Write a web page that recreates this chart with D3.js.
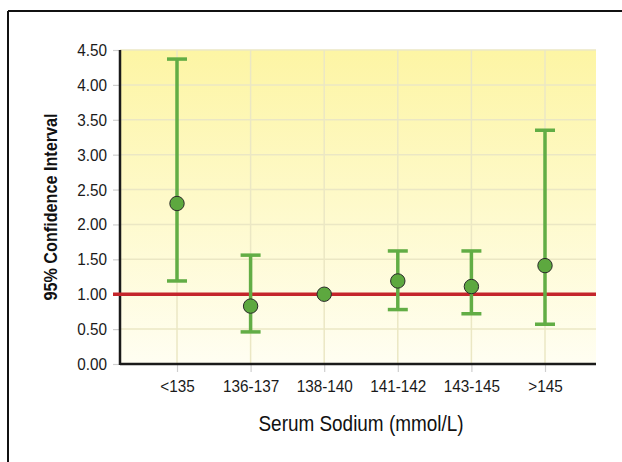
<!DOCTYPE html>
<html>
<head>
<meta charset="utf-8">
<script src="https://cdn.jsdelivr.net/npm/d3@7"></script>
<style>
  body { margin: 0; background: #fff; }
  svg { display: block; }
  svg text { font-family: "Liberation Sans", Arial, sans-serif; }
</style>
</head>
<body>
<svg id="chart" width="622" height="462"></svg>
<script>
// data
const categories = ['<135', '136-137', '138-140', '141-142', '143-145', '>145'];
const estimates = [2.30, 0.83, 1.00, 1.19, 1.11, 1.41];
const lowerCI = [1.19, 0.46, null, 0.78, 0.72, 0.57];
const upperCI = [4.37, 1.56, null, 1.62, 1.62, 3.35];
const yTicks = [0, 0.5, 1, 1.5, 2, 2.5, 3, 3.5, 4, 4.5];
const referenceValue = 1.0;

const svg = d3.select('#chart');
const plot = { left: 120, right: 596, top: 50, bottom: 364 };
const squeeze = 0.9; // the original uses a condensed face

const x = d3.scalePoint().domain(categories).range([177, 545]);
const y = d3.scaleLinear().domain([0, 4.5]).range([plot.bottom, plot.top]);

// frame (only top and left edges visible)
svg.append('line').attr('x1', 8).attr('x2', 622).attr('y1', 11).attr('y2', 11)
    .attr('stroke', '#111').attr('stroke-width', 2);
svg.append('line').attr('x1', 8).attr('x2', 8).attr('y1', 11).attr('y2', 462)
    .attr('stroke', '#111').attr('stroke-width', 2);

// background gradient
const grad = svg.append('defs').append('linearGradient')
    .attr('id', 'bg').attr('x1', 0).attr('x2', 0).attr('y1', 0).attr('y2', 1);
grad.append('stop').attr('offset', '0%').attr('stop-color', '#fdf5a4');
grad.append('stop').attr('offset', '100%').attr('stop-color', '#fffef2');

svg.append('rect')
    .attr('x', plot.left).attr('y', plot.top)
    .attr('width', plot.right - plot.left).attr('height', plot.bottom - plot.top)
    .attr('fill', 'url(#bg)');

// grid
svg.append('g').selectAll('line').data(yTicks).join('line')
    .attr('x1', plot.left).attr('x2', plot.right)
    .attr('y1', d => y(d)).attr('y2', d => y(d))
    .attr('stroke', '#ebe7c4').attr('stroke-width', 1.5);
svg.append('g').selectAll('line').data(categories).join('line')
    .attr('x1', d => x(d)).attr('x2', d => x(d))
    .attr('y1', plot.top).attr('y2', plot.bottom)
    .attr('stroke', '#ebe7c4').attr('stroke-width', 1.5);

// axes
const yAxis = svg.append('g')
    .attr('transform', `translate(${plot.left},0)`)
    .call(d3.axisLeft(y).tickValues(yTicks).tickFormat(d3.format('.2f')).tickSize(7).tickPadding(6));
const xAxis = svg.append('g')
    .attr('transform', `translate(0,${plot.bottom})`)
    .call(d3.axisBottom(x).tickSize(8).tickPadding(8));

[yAxis, xAxis].forEach(g => {
    g.attr('font-family', null).attr('font-size', null);
    g.select('.domain').remove();
    g.selectAll('.tick line').attr('stroke', '#cfcfcf').attr('stroke-width', 1.2);
    g.selectAll('.tick text')
        .attr('fill', '#1a1a1a')
        .style('font-size', '17px')
        .attr('x', function () { return (+d3.select(this).attr('x') || 0) / squeeze; })
        .attr('transform', `scale(${squeeze},1)`);
});

svg.append('line').attr('x1', plot.left).attr('x2', plot.left)
    .attr('y1', plot.top).attr('y2', plot.bottom + 1)
    .attr('stroke', '#1a1a1a').attr('stroke-width', 2.5);
svg.append('line').attr('x1', plot.left).attr('x2', plot.right)
    .attr('y1', plot.bottom).attr('y2', plot.bottom)
    .attr('stroke', '#1a1a1a').attr('stroke-width', 2.5);

// reference line
svg.append('line')
    .attr('x1', 113).attr('x2', plot.right)
    .attr('y1', y(referenceValue)).attr('y2', y(referenceValue))
    .attr('stroke', '#c4252b').attr('stroke-width', 3.5);

// error bars
const rows = categories.map((c, i) => ({ cat: c, est: estimates[i], lo: lowerCI[i], hi: upperCI[i] }));
const withCI = rows.filter(d => d.lo != null);
const green = '#62ad45';
const capW = 10;

const bars = svg.append('g');
bars.selectAll('line.stem').data(withCI).join('line').attr('class', 'stem')
    .attr('x1', d => x(d.cat)).attr('x2', d => x(d.cat))
    .attr('y1', d => y(d.hi)).attr('y2', d => y(d.lo))
    .attr('stroke', green).attr('stroke-width', 3.5);
bars.selectAll('line.cap-hi').data(withCI).join('line').attr('class', 'cap-hi')
    .attr('x1', d => x(d.cat) - capW).attr('x2', d => x(d.cat) + capW)
    .attr('y1', d => y(d.hi)).attr('y2', d => y(d.hi))
    .attr('stroke', green).attr('stroke-width', 3.5);
bars.selectAll('line.cap-lo').data(withCI).join('line').attr('class', 'cap-lo')
    .attr('x1', d => x(d.cat) - capW).attr('x2', d => x(d.cat) + capW)
    .attr('y1', d => y(d.lo)).attr('y2', d => y(d.lo))
    .attr('stroke', green).attr('stroke-width', 3.5);

// point estimates
svg.append('g').selectAll('circle').data(rows).join('circle')
    .attr('cx', d => x(d.cat)).attr('cy', d => y(d.est)).attr('r', 7.2)
    .attr('fill', '#5da83f').attr('stroke', '#2a2a2a').attr('stroke-width', 1);

// axis titles
svg.append('text')
    .attr('x', 361).attr('y', 431)
    .attr('text-anchor', 'middle')
    .attr('textLength', 205).attr('lengthAdjust', 'spacingAndGlyphs')
    .style('font-size', '22px').attr('fill', '#111')
    .text('Serum Sodium (mmol/L)');
svg.append('text')
    .attr('transform', `translate(57,${(plot.top + plot.bottom) / 2}) rotate(-90)`)
    .attr('text-anchor', 'middle')
    .attr('textLength', 187).attr('lengthAdjust', 'spacingAndGlyphs')
    .style('font-size', '19px').style('font-weight', 'bold').attr('fill', '#111')
    .text('95% Confidence Interval');
</script>
</body>
</html>
